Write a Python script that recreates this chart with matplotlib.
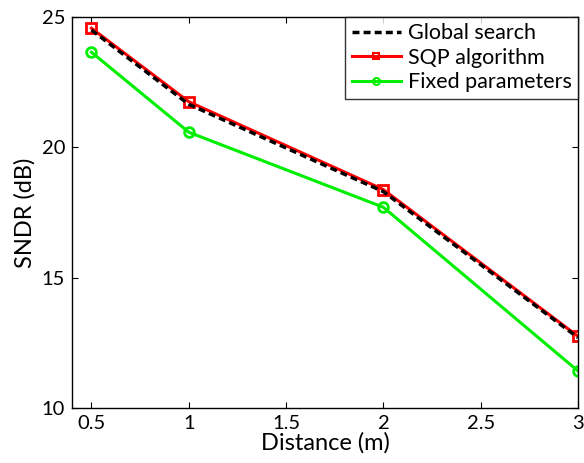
import matplotlib
matplotlib.use("Agg")
import matplotlib.pyplot as plt

plt.rcParams['font.family'] = ['Lato', 'DejaVu Sans']

distance = [0.5, 1, 2, 3]
global_search = [24.5, 21.65, 18.3, 12.7]
sqp = [24.57, 21.75, 18.38, 12.75]
fixed = [23.65, 20.58, 17.7, 11.42]

fig = plt.figure(figsize=(5.84, 4.63), dpi=100)
ax = fig.add_axes([72/584, 1 - 408/463, (578-72)/584, (408-17)/463])

ax.plot(distance, global_search, 'k--', lw=2.5, dashes=(2, 1.2), label='Global search', zorder=3)
ax.plot(distance, sqp, color='red', lw=2.2, marker='s', ms=7, mfc='none', mew=2,
        label='SQP algorithm', zorder=2)
ax.plot(distance, fixed, color='#00ee00', lw=2.2, marker='o', ms=7, mfc='none', mew=2,
        label='Fixed parameters', zorder=2)

ax.set_xlim(0.4, 3)
ax.set_ylim(10, 25)
ax.set_xticks([0.5, 1, 1.5, 2, 2.5, 3])
ax.set_xticklabels(['0.5', '1', '1.5', '2', '2.5', '3'])
ax.set_yticks([10, 15, 20, 25])
ax.tick_params(direction='in', length=4, labelsize=14.5, top=True, right=True, pad=5)
for s in ax.spines.values():
    s.set_linewidth(1)
ax.set_xlabel('Distance (m)', fontsize=17, labelpad=0)
ax.set_ylabel('SNDR (dB)', fontsize=17, labelpad=4)

leg = ax.legend(loc='upper right', fontsize=15.5, frameon=True, fancybox=False,
                borderaxespad=0, handlelength=2.3, handletextpad=0.3,
                labelspacing=0.2, borderpad=0.3)
leg.get_frame().set_edgecolor('black')
leg.get_frame().set_linewidth(1)
for h in leg.legend_handles:
    h.set_markersize(5)
    h.set_markeredgewidth(1.5)

fig.savefig('out.png', dpi=100)
